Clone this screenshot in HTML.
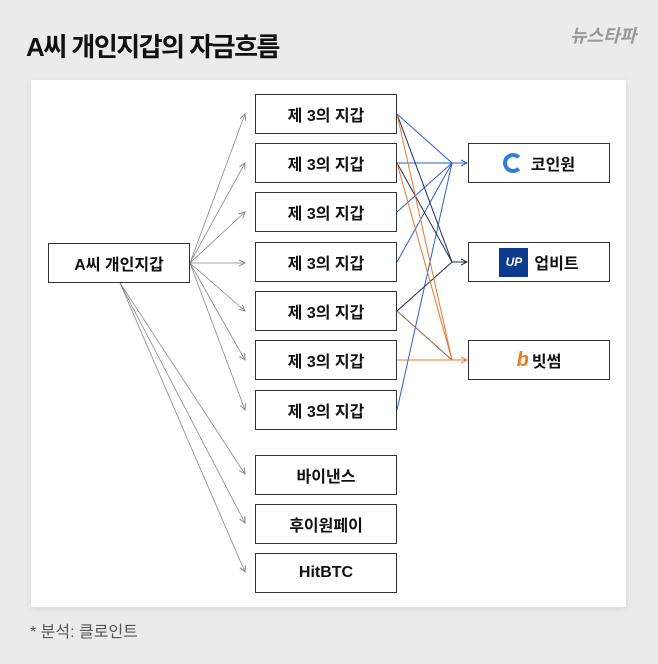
<!DOCTYPE html>
<html><head><meta charset="utf-8"><style>
body{margin:0;width:658px;height:664px;background:#ebebeb;overflow:hidden;font-family:"Liberation Sans","Noto Sans CJK KR",sans-serif}
.t{position:absolute;left:26px;top:27px;font-size:26px;font-weight:bold;color:#111;letter-spacing:-1.5px}
.logo{position:absolute;left:570px;top:22px;font-size:18px;color:#999;font-style:italic;font-weight:bold}
.panel{position:absolute;left:31px;top:80px;width:595px;height:527px;background:#fff;box-shadow:0 2px 8px rgba(0,0,0,.08)}
.b{position:absolute;box-sizing:border-box;border:1.5px solid #333;background:#fff;display:flex;align-items:center;justify-content:center;font-size:16px;font-weight:bold;color:#111;height:40px}
.m{left:255px;width:142px}
.r{left:468px;width:142px}
.f{position:absolute;left:30px;top:618px;font-size:16px;color:#555}
</style></head><body>
<div class="t">A씨 개인지갑의 자금흐름</div>
<div class="logo">뉴스타파</div>
<div class="panel"></div>
<svg width="658" height="664" style="position:absolute;left:0;top:0">
<defs>
<marker id="g" markerWidth="8" markerHeight="8" refX="7" refY="4" orient="auto" markerUnits="userSpaceOnUse"><path d="M1,1L7,4L1,7" fill="none" stroke="#888" stroke-width="1"/></marker>
<marker id="bl" markerWidth="8" markerHeight="8" refX="7" refY="4" orient="auto" markerUnits="userSpaceOnUse"><path d="M1,1L7,4L1,7" fill="none" stroke="#2a5fcf" stroke-width="1"/></marker>
<marker id="nv" markerWidth="8" markerHeight="8" refX="7" refY="4" orient="auto" markerUnits="userSpaceOnUse"><path d="M1,1L7,4L1,7" fill="none" stroke="#1e2c5a" stroke-width="1"/></marker>
<marker id="or" markerWidth="8" markerHeight="8" refX="7" refY="4" orient="auto" markerUnits="userSpaceOnUse"><path d="M1,1L7,4L1,7" fill="none" stroke="#e8772e" stroke-width="1"/></marker>
</defs>
<g stroke="#888" stroke-width="0.8" fill="none">
<line x1="190" y1="263" x2="245" y2="114" marker-end="url(#g)"/>
<line x1="190" y1="263" x2="245" y2="163" marker-end="url(#g)"/>
<line x1="190" y1="263" x2="245" y2="212" marker-end="url(#g)"/>
<line x1="190" y1="263" x2="245" y2="263" marker-end="url(#g)"/>
<line x1="190" y1="263" x2="245" y2="311" marker-end="url(#g)"/>
<line x1="190" y1="263" x2="245" y2="360" marker-end="url(#g)"/>
<line x1="190" y1="263" x2="245" y2="410" marker-end="url(#g)"/>
<line x1="120" y1="283" x2="245" y2="474" marker-end="url(#g)"/>
<line x1="120" y1="283" x2="245" y2="523" marker-end="url(#g)"/>
<line x1="120" y1="283" x2="245" y2="572" marker-end="url(#g)"/>
</g>
<g stroke-width="1" fill="none">
<g stroke="#2a5fcf">
<line x1="397" y1="114" x2="452" y2="163"/>
<line x1="397" y1="163" x2="452" y2="163"/>
<line x1="397" y1="212" x2="452" y2="163"/>
<line x1="397" y1="262" x2="452" y2="163"/>
<line x1="397" y1="410" x2="452" y2="163"/>
<line x1="452" y1="163" x2="467" y2="163" marker-end="url(#bl)"/>
</g>
<g stroke="#1e2c5a">
<line x1="397" y1="114" x2="452" y2="262"/>
<line x1="397" y1="163" x2="452" y2="262"/>
<line x1="397" y1="311" x2="452" y2="262"/>
<line x1="452" y1="262" x2="467" y2="262" marker-end="url(#nv)"/>
</g>
<g stroke="#e8772e">
<line x1="397" y1="114" x2="452" y2="360"/>
<line x1="397" y1="163" x2="452" y2="360"/>
<line x1="397" y1="311" x2="452" y2="360" stroke="#a0603a"/>
<line x1="397" y1="360" x2="452" y2="360"/>
<line x1="452" y1="360" x2="467" y2="360" marker-end="url(#or)"/>
</g>
</g>
</svg>
<div class="b" style="left:48px;top:243px;width:142px">A씨 개인지갑</div>
<div class="b m" style="top:94px">제 3의 지갑</div>
<div class="b m" style="top:143px">제 3의 지갑</div>
<div class="b m" style="top:192px">제 3의 지갑</div>
<div class="b m" style="top:242px">제 3의 지갑</div>
<div class="b m" style="top:291px">제 3의 지갑</div>
<div class="b m" style="top:340px">제 3의 지갑</div>
<div class="b m" style="top:390px">제 3의 지갑</div>
<div class="b m" style="top:455px">바이낸스</div>
<div class="b m" style="top:504px">후이원페이</div>
<div class="b m" style="top:553px">HitBTC</div>
<div class="b r" style="top:143px"><span style="display:inline-block;width:12px;height:12px;border:4px solid #2f7de1;border-right-color:transparent;border-radius:50%;margin-right:8px"></span>코인원</div>
<div class="b r" style="top:242px"><span style="display:inline-block;width:29px;height:29px;background:#0b3a8f;color:#fff;font-size:12px;font-style:italic;line-height:29px;text-align:center;margin-right:6px">UP</span>업비트</div>
<div class="b r" style="top:340px"><span style="color:#f07a1a;font-size:20px;font-style:italic;margin-right:3px">b</span>빗썸</div>
<div class="f">* 분석: 클로인트</div>
</body></html>
